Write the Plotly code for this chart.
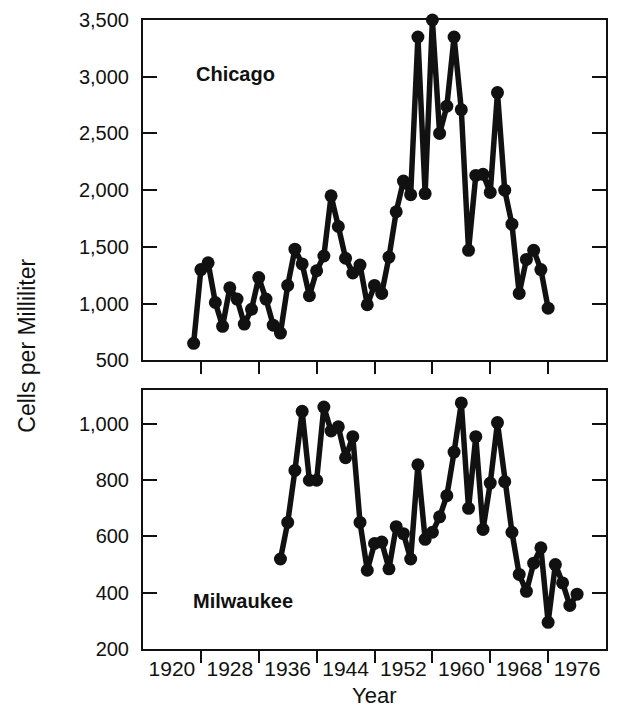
import plotly.graph_objects as go

# Annual bacterial counts in raw water (cells per milliliter)
chicago_years = list(range(1923, 1973))
chicago_cells = [
    650, 1300, 1360, 1010, 800, 1140, 1040, 820, 950, 1230,
    1040, 810, 740, 1160, 1480, 1350, 1070, 1290, 1420, 1950,
    1680, 1400, 1270, 1340, 990, 1160, 1090, 1410, 1810, 2080,
    1960, 3350, 1970, 3500, 2500, 2740, 3350, 2710, 1470, 2130,
    2140, 1980, 2860, 2000, 1700, 1090, 1390, 1470, 1300, 960,
]

milwaukee_years = list(range(1935, 1977))
milwaukee_cells = [
    520, 650, 835, 1045, 800, 800, 1060, 975, 990, 880,
    955, 650, 480, 575, 580, 485, 635, 610, 520, 855,
    590, 615, 670, 745, 900, 1075, 700, 955, 625, 790,
    1005, 795, 615, 465, 405, 505, 560, 295, 500, 435,
    355, 395,
]

year_labels = list(range(1920, 1977, 8))      # labels sit mid-interval
year_marks = list(range(1924, 1973, 8))       # tick marks between labels
chicago_ticks = list(range(500, 3501, 500))
milwaukee_ticks = list(range(200, 1001, 200))

FONT = "Liberation Sans, Arial, Helvetica, sans-serif"
INK = "#111111"

fig = go.Figure()

line_style = dict(color=INK, width=5.5)
marker_style = dict(color=INK, size=13)

fig.add_trace(go.Scatter(
    x=chicago_years, y=chicago_cells, mode="lines+markers",
    line=line_style, marker=marker_style, cliponaxis=False,
    xaxis="x", yaxis="y", showlegend=False, hoverinfo="x+y",
))
fig.add_trace(go.Scatter(
    x=milwaukee_years, y=milwaukee_cells, mode="lines+markers",
    line=line_style, marker=marker_style, cliponaxis=False,
    xaxis="x2", yaxis="y2", showlegend=False, hoverinfo="x+y",
))

x_range = [1916, 1980]
axis_line = dict(showline=True, linewidth=2, linecolor=INK,
                 showgrid=False, zeroline=False)
bottom_marks = dict(tickvals=year_marks, ticks="outside", ticklen=12,
                    tickwidth=2, tickcolor=INK)

top_dom = [0.4589, 1.0]
bot_dom = [0.0, 0.4114]

fig.update_layout(
    width=617, height=715,
    margin=dict(l=143, r=9, t=18, b=66),
    paper_bgcolor="white", plot_bgcolor="white",
    font=dict(family=FONT, size=20, color=INK),
    xaxis=dict(domain=[0, 1], anchor="y", range=x_range, mirror=True,
               showticklabels=False, ticks="", tickvals=year_labels,
               minor=bottom_marks, **axis_line),
    xaxis3=dict(overlaying="x", anchor="y", side="top", range=x_range,
                tickvals=year_marks, ticks="inside", ticklen=13, tickwidth=2,
                tickcolor=INK, showticklabels=False, showline=False,
                showgrid=False, zeroline=False),
    yaxis=dict(domain=top_dom, anchor="x", range=[500, 3500],
               tickvals=chicago_ticks, tickformat=",", ticks="inside",
               ticklen=14, tickwidth=2, tickcolor=INK, mirror="ticks",
               ticklabelstandoff=8, **axis_line),
    xaxis2=dict(domain=[0, 1], anchor="y2", range=x_range, mirror=True,
                tickvals=year_labels, ticktext=[str(y) for y in year_labels],
                tickfont=dict(size=21),
                ticks="", minor=bottom_marks, **axis_line),
    xaxis4=dict(overlaying="x2", anchor="y2", side="top", range=x_range,
                tickvals=year_marks, ticks="inside", ticklen=13, tickwidth=2,
                tickcolor=INK, showticklabels=False, showline=False,
                showgrid=False, zeroline=False),
    yaxis2=dict(domain=bot_dom, anchor="x2", range=[200, 1120],
                tickvals=milwaukee_ticks, tickformat=",", ticks="inside",
                ticklen=14, tickwidth=2, tickcolor=INK, mirror="ticks",
                ticklabelstandoff=8, **axis_line),
    annotations=[
        dict(text="<b>Chicago</b>", xref="x", yref="y", x=1923.1, y=3020,
             xanchor="left", yanchor="middle", showarrow=False,
             font=dict(size=20)),
        dict(text="<b>Milwaukee</b>", xref="x2", yref="y2", x=1922.7, y=371,
             xanchor="left", yanchor="middle", showarrow=False,
             font=dict(size=20)),
        dict(text="Cells per Milliliter", xref="paper", yref="paper",
             x=-0.25, y=0.4826, textangle=-90, xanchor="center",
             yanchor="middle", showarrow=False, font=dict(size=23)),
        dict(text="Year", xref="paper", yref="paper", x=0.499, y=-0.0744,
             xanchor="center", yanchor="middle", showarrow=False,
             font=dict(size=22)),
    ],
)

fig.write_html("out.html")
